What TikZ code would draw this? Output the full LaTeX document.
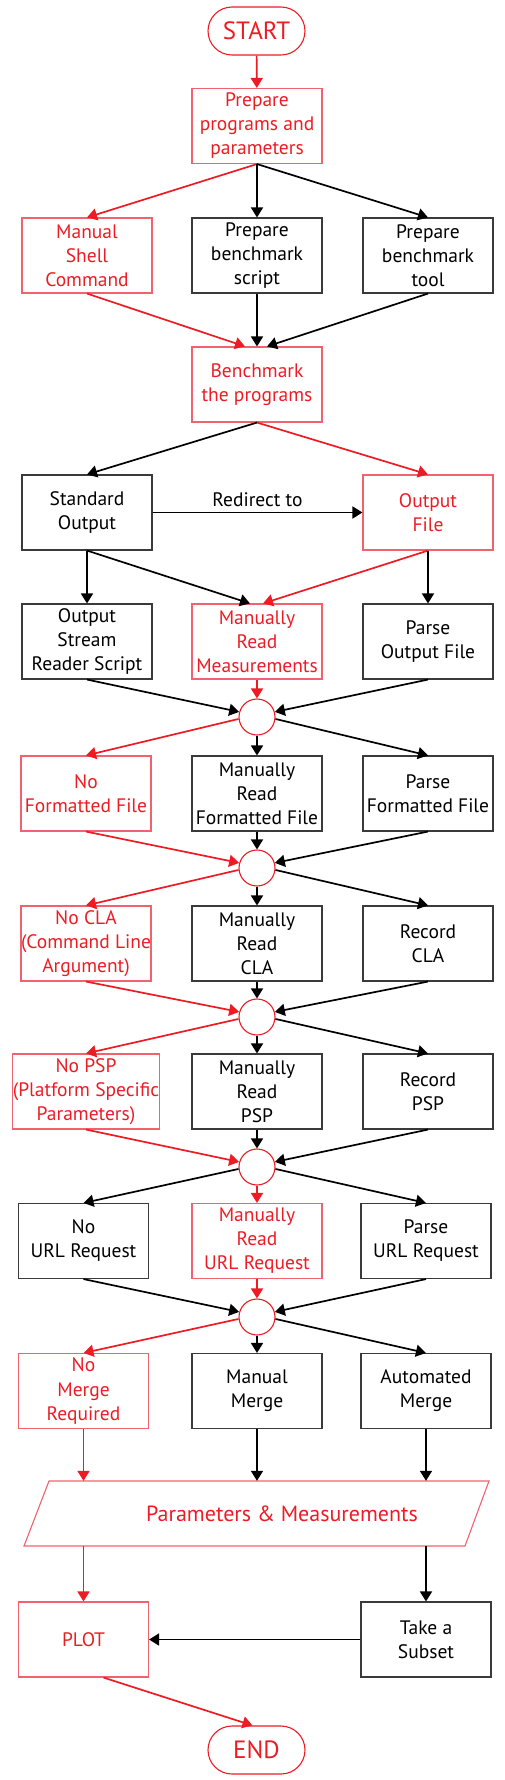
\documentclass[tikz,border=0pt]{standalone}
\usepackage{fontspec}
\setmainfont{PT Sans}
\usetikzlibrary{arrows.meta}
\definecolor{fred}{HTML}{ED1C24}
\definecolor{fredbox}{HTML}{F1626E}
\definecolor{fgray}{HTML}{3A3A3A}
\tikzset{
  boxbase/.style={rectangle, minimum width=130pt, minimum height=75pt, inner sep=0pt, align=center, font=\fontsize{19.5}{24}\selectfont, line width=1.1pt},
  bbox/.style={boxbase, draw=fgray, text=black},
  rbox/.style={boxbase, draw=fredbox, text=fred},
  term/.style={rectangle, rounded corners=24pt, draw=fred, text=fred, minimum width=97pt, minimum height=48pt, font=\fontsize{25}{30}\selectfont, line width=1.1pt},
  junc/.style={circle, draw=fred, minimum size=36pt, inner sep=0pt, line width=1.1pt},
  barr/.style={draw=black, line width=1.7pt, -{Triangle[length=10pt,width=12pt]}},
  rarr/.style={draw=fred, line width=1.7pt, -{Triangle[length=10pt,width=12pt]}},
}
\begin{document}
\begin{tikzpicture}[x=1pt,y=-1pt]
\useasboundingbox (0,0) rectangle (504,1780);
% nodes
\node[term] (start) at (256.5,31) {START};
\node[rbox] (prep) at (257,126) {Prepare\\programs and\\parameters};
\node[rbox] (manual) at (87,255.5) {Manual\\Shell\\Command};
\node[bbox] (pscript) at (257,255.5) {Prepare\\benchmark\\script};
\node[bbox] (ptool) at (428,255.5) {Prepare\\benchmark\\tool};
\node[rbox] (bench) at (257,384.5) {Benchmark\\the programs};
\node[bbox] (stdout) at (87,512.5) {Standard\\Output};
\node[rbox] (outfile) at (428,512.5) {Output\\File};
\node[bbox] (osr) at (87,641.5) {Output\\Stream\\Reader Script};
\node[rbox] (mrm) at (257,641.5) {Manually\\Read\\Measurements};
\node[bbox] (pof) at (428,641.5) {Parse\\Output File};
\node[junc] (c1) at (257,717) {};
\node[rbox] (nff) at (86,793.5) {No\\Formatted File};
\node[bbox] (mrff) at (257,793.5) {Manually\\Read\\Formatted File};
\node[bbox] (pff) at (428,793.5) {Parse\\Formatted File};
\node[junc] (c2) at (257,868) {};
\node[rbox] (nocla) at (86,943.5) {No CLA\\(Command Line\\Argument)};
\node[bbox] (mrcla) at (257,943.5) {Manually\\Read\\CLA};
\node[bbox] (rcla) at (428,943.5) {Record\\CLA};
\node[junc] (c3) at (257,1017) {};
\node[rbox] (nopsp) at (86,1091.5) {No PSP\\(Platform Specific\\Parameters)};
\node[bbox] (mrpsp) at (257,1091.5) {Manually\\Read\\PSP};
\node[bbox] (rpsp) at (428,1091.5) {Record\\PSP};
\node[junc] (c4) at (257,1167) {};
\node[bbox] (nourl) at (83.5,1241) {No\\URL Request};
\node[rbox] (mrurl) at (257,1241) {Manually\\Read\\URL Request};
\node[bbox] (purl) at (426,1241) {Parse\\URL Request};
\node[junc] (c5) at (257,1317) {};
\node[rbox] (nomerge) at (83.5,1391) {No\\Merge\\Required};
\node[bbox] (mmerge) at (257,1391) {Manual\\Merge};
\node[bbox] (amerge) at (426,1391) {Automated\\Merge};
\draw[draw=fredbox, line width=1.1pt] (49,1481) -- (489,1481) -- (465,1546) -- (24,1546) -- cycle;
\node[minimum height=65pt, inner sep=0pt, text=fred, font=\fontsize{22}{26}\selectfont] (pm) at (282,1513.5) {Parameters \& Measurements};
\node[rbox] (plot) at (83.5,1639.5) {PLOT};
\node[bbox] (subset) at (426,1639.5) {Take a\\Subset};
\node[term] (end) at (256.5,1750) {END};
% connectors
\draw[rarr] (start) -- (prep);
\draw[rarr] (prep.south) -- (manual.north);
\draw[barr] (prep.south) -- (pscript.north);
\draw[barr] (prep.south) -- (ptool.north);
\draw[rarr] (manual.south) -- ([xshift=-12pt]bench.north);
\draw[barr] (pscript.south) -- (bench.north);
\draw[barr] (ptool.south) -- ([xshift=10pt]bench.north);
\draw[barr] (bench.south) -- (stdout.north);
\draw[rarr] (bench.south) -- (outfile.north);
\draw[barr] (stdout.east) -- node[above=2pt, font=\fontsize{19.5}{24}\selectfont] {Redirect to} (outfile.west);
\draw[barr] (stdout.south) -- (osr.north);
\draw[barr] (stdout.south) -- ([xshift=-7pt]mrm.north);
\draw[rarr] (outfile.south) -- ([xshift=6pt]mrm.north);
\draw[barr] (outfile.south) -- (pof.north);
% junction 1
\draw[barr] (osr.south) -- (c1.164);
\draw[rarr] (mrm.south) -- (c1.north);
\draw[barr] (pof.south) -- (c1.16);
\draw[rarr] (c1.186) -- (nff.north);
\draw[barr] (c1.south) -- (mrff.north);
\draw[barr] (c1.-6) -- (pff.north);
% junction 2
\draw[rarr] (nff.south) -- (c2.164);
\draw[barr] (mrff.south) -- (c2.north);
\draw[barr] (pff.south) -- (c2.16);
\draw[rarr] (c2.186) -- (nocla.north);
\draw[barr] (c2.south) -- (mrcla.north);
\draw[barr] (c2.-6) -- (rcla.north);
% junction 3
\draw[rarr] (nocla.south) -- (c3.164);
\draw[barr] (mrcla.south) -- (c3.north);
\draw[barr] (rcla.south) -- (c3.16);
\draw[rarr] (c3.186) -- (nopsp.north);
\draw[barr] (c3.south) -- (mrpsp.north);
\draw[barr] (c3.-6) -- (rpsp.north);
% junction 4
\draw[rarr] (nopsp.south) -- (c4.164);
\draw[barr] (mrpsp.south) -- (c4.north);
\draw[barr] (rpsp.south) -- (c4.16);
\draw[barr] (c4.186) -- (nourl.north);
\draw[rarr] (c4.south) -- (mrurl.north);
\draw[barr] (c4.-6) -- (purl.north);
% junction 5
\draw[barr] (nourl.south) -- (c5.164);
\draw[rarr] (mrurl.south) -- (c5.north);
\draw[barr] (purl.south) -- (c5.16);
\draw[rarr] (c5.186) -- (nomerge.north);
\draw[barr] (c5.south) -- (mmerge.north);
\draw[barr] (c5.-6) -- (amerge.north);
% to parameters
\draw[rarr] (nomerge.south) -- (nomerge.south |- pm.north);
\draw[barr] (mmerge.south) -- (mmerge.south |- pm.north);
\draw[barr] (amerge.south) -- (amerge.south |- pm.north);
\draw[rarr] (plot.north |- pm.south) -- (plot.north);
\draw[barr] (subset.north |- pm.south) -- (subset.north);
\draw[barr] (subset.west) -- (plot.east);
\draw[rarr] ([xshift=20pt]plot.south) -- ([xshift=-4pt]end.north);
\end{tikzpicture}
\end{document}
